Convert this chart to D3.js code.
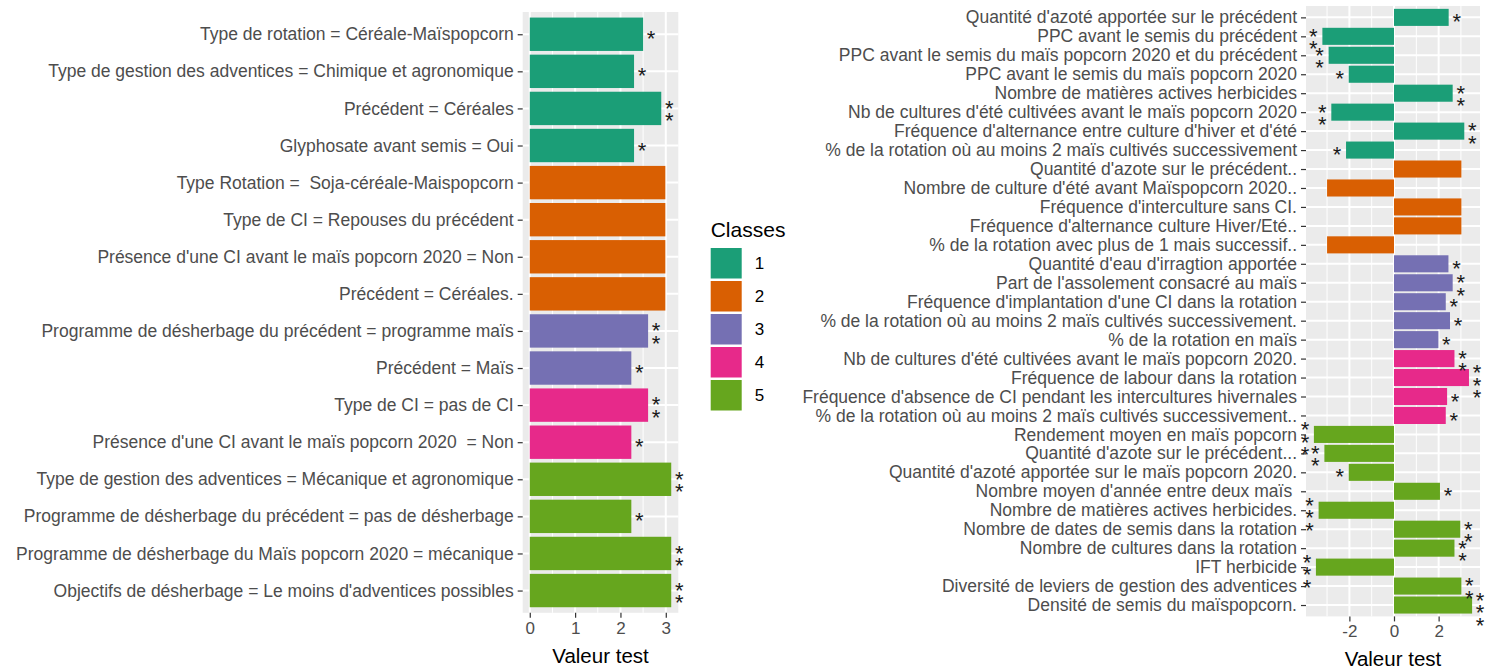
<!DOCTYPE html>
<html>
<head>
<meta charset="utf-8">
<script src="https://cdnjs.cloudflare.com/ajax/libs/d3/7.8.5/d3.min.js"></script>
<style>
  body { margin: 0; background: #fff; }
  svg text { font-family: "Liberation Sans", Arial, sans-serif; white-space: pre; }
</style>
</head>
<body>
<div id="chart"></div>
<script>
// ---- data ----
var classNames = ["1", "2", "3", "4", "5"];
var classColors = ["#1B9E77", "#D95F02", "#7570B3", "#E7298A", "#66A61E"];

var leftLabels = [
  "Type de rotation = Céréale-Maïspopcorn",
  "Type de gestion des adventices = Chimique et agronomique",
  "Précédent = Céréales",
  "Glyphosate avant semis = Oui",
  "Type Rotation =  Soja-céréale-Maispopcorn",
  "Type de CI = Repouses du précédent",
  "Présence d'une CI avant le maïs popcorn 2020 = Non",
  "Précédent = Céréales.",
  "Programme de désherbage du précédent = programme maïs",
  "Précédent = Maïs",
  "Type de CI = pas de CI",
  "Présence d'une CI avant le maïs popcorn 2020  = Non",
  "Type de gestion des adventices = Mécanique et agronomique",
  "Programme de désherbage du précédent = pas de désherbage",
  "Programme de désherbage du Maïs popcorn 2020 = mécanique",
  "Objectifs de désherbage = Le moins d'adventices possibles"
];
var leftValues = [2.50, 2.30, 2.90, 2.30, 2.99, 2.99, 2.99, 2.99, 2.61, 2.24, 2.61, 2.24, 3.12, 2.24, 3.12, 3.12];
var leftClasses = [1, 1, 1, 1, 2, 2, 2, 2, 3, 3, 4, 4, 5, 5, 5, 5];
var leftStars = [1, 1, 2, 1, 0, 0, 0, 0, 2, 1, 2, 1, 2, 1, 2, 2];
var leftTicks = [0, 1, 2, 3];

var rightLabels = [
  "Quantité d'azoté apportée sur le précédent",
  "PPC avant le semis du précédent",
  "PPC avant le semis du maïs popcorn 2020 et du précédent",
  "PPC avant le semis du maïs popcorn 2020",
  "Nombre de matières actives herbicides",
  "Nb de cultures d'été cultivées avant le maïs popcorn 2020",
  "Fréquence d'alternance entre culture d'hiver et d'été",
  "% de la rotation où au moins 2 maïs cultivés successivement",
  "Quantité d'azote sur le précédent..",
  "Nombre de culture d'été avant Maïspopcorn 2020..",
  "Fréquence d'interculture sans CI.",
  "Fréquence d'alternance culture Hiver/Eté..",
  "% de la rotation avec plus de 1 mais successif..",
  "Quantité d'eau d'irragtion apportée",
  "Part de l'assolement consacré au maïs",
  "Fréquence d'implantation d'une CI dans la rotation",
  "% de la rotation où au moins 2 maïs cultivés successivement.",
  "% de la rotation en maïs",
  "Nb de cultures d'été cultivées avant le maïs popcorn 2020.",
  "Fréquence de labour dans la rotation",
  "Fréquence d'absence de CI pendant les intercultures hivernales",
  "% de la rotation où au moins 2 maïs cultivés successivement..",
  "Rendement moyen en maïs popcorn",
  "Quantité d'azote sur le précédent...",
  "Quantité d'azoté apportée sur le maïs popcorn 2020.",
  "Nombre moyen d'année entre deux maïs ",
  "Nombre de matières actives herbicides.",
  "Nombre de dates de semis dans la rotation",
  "Nombre de cultures dans la rotation",
  "IFT herbicide",
  "Diversité de leviers de gestion des adventices",
  "Densité de semis du maïspopcorn."
];
var rightValues = [2.45, -3.21, -2.93, -2.03, 2.63, -2.81, 3.15, -2.15,
  3.02, -3.00, 3.02, 3.02, -3.00,
  2.44, 2.63, 2.32, 2.51, 1.99,
  2.71, 3.36, 2.38, 2.32,
  -3.59, -3.12, -2.03, 2.06, -3.38, 2.97, 2.71, -3.50, 3.02, 3.50];
var rightClasses = [1, 1, 1, 1, 1, 1, 1, 1, 2, 2, 2, 2, 2, 3, 3, 3, 3, 3, 4, 4, 4, 4,
  5, 5, 5, 5, 5, 5, 5, 5, 5, 5];
var rightStars = [1, 2, 2, 1, 2, 2, 2, 1, 0, 0, 0, 0, 0, 1, 2, 1, 1, 1, 2, 3, 1, 1,
  3, 2, 1, 1, 3, 2, 2, 3, 2, 3];
var rightTicks = [-2, 0, 2];

var svgWidth = 1494;
var svgHeight = 669;

var svg = d3.select("#chart")
  .append("svg")
  .attr("width", svgWidth)
  .attr("height", svgHeight);

var starSize = 22;

// draws one ggplot-like horizontal bar panel
function drawPanel(p) {
  var n = p.labels.length;
  var rows = p.labels.map(function(l, i) {
    return { label: l, value: p.values[i], cls: p.classes[i], stars: p.stars[i], i: i };
  });

  // x scale with ggplot's 5% expansion
  var lo = Math.min(0, d3.min(p.values));
  var hi = Math.max(0, d3.max(p.values));
  var pad = (hi - lo) * 0.05;
  var xScale = d3.scaleLinear()
    .domain([lo - pad, hi + pad])
    .range([p.left, p.right]);

  // discrete y with 0.6 expansion each side
  var yScale = d3.scalePoint()
    .domain(d3.range(n))
    .range([p.top, p.bottom])
    .padding(0.6);
  var step = yScale.step();

  var g = svg.append("g");

  g.append("rect")
    .attr("x", p.left).attr("y", p.top)
    .attr("width", p.right - p.left).attr("height", p.bottom - p.top)
    .attr("fill", "#EBEBEB");

  // minor gridlines halfway between major ticks
  var minor = [];
  for (var k = 0; k < p.ticks.length - 1; k++) {
    minor.push((p.ticks[k] + p.ticks[k + 1]) / 2);
  }
  var tStep = p.ticks[1] - p.ticks[0];
  minor.push(p.ticks[0] - tStep / 2, p.ticks[p.ticks.length - 1] + tStep / 2);
  minor = minor.filter(function(v) { return v > xScale.domain()[0] && v < xScale.domain()[1]; });

  g.selectAll(".minor").data(minor).enter().append("line")
    .attr("x1", d => xScale(d)).attr("x2", d => xScale(d))
    .attr("y1", p.top).attr("y2", p.bottom)
    .attr("stroke", "#fff").attr("stroke-width", 1);

  g.selectAll(".major").data(p.ticks).enter().append("line")
    .attr("x1", d => xScale(d)).attr("x2", d => xScale(d))
    .attr("y1", p.top).attr("y2", p.bottom)
    .attr("stroke", "#fff").attr("stroke-width", 2);

  g.selectAll(".hgrid").data(rows).enter().append("line")
    .attr("x1", p.left).attr("x2", p.right)
    .attr("y1", d => yScale(d.i)).attr("y2", d => yScale(d.i))
    .attr("stroke", "#fff").attr("stroke-width", 2);

  // bars
  g.selectAll(".bar").data(rows).enter().append("rect")
    .attr("x", d => xScale(Math.min(0, d.value)))
    .attr("width", d => Math.abs(xScale(d.value) - xScale(0)))
    .attr("y", d => yScale(d.i) - step * 0.45)
    .attr("height", step * 0.9)
    .attr("fill", d => classColors[d.cls - 1]);

  // significance stars, stacked vertically
  rows.forEach(function(d) {
    for (var s = 0; s < d.stars; s++) {
      var yc = yScale(d.i) + (s - (d.stars - 1) / 2) * 12.5 + (d.stars - 1) * 1.5;
      var xs = d.value >= 0 ? xScale(d.value) + 8 : xScale(d.value) - 9;
      g.append("text")
        .attr("x", xs)
        .attr("y", yc + starSize * 0.55)
        .attr("text-anchor", "middle")
        .attr("font-size", starSize + "px")
        .attr("fill", "#1a1a1a")
        .text("*");
    }
  });

  // y axis: ticks + labels
  var yAxis = d3.axisLeft(yScale)
    .tickSize(5)
    .tickPadding(4)
    .tickFormat(function(i) { return p.labels[i]; });
  var ya = g.append("g")
    .attr("transform", "translate(" + p.left + ",0)")
    .call(yAxis);
  ya.select(".domain").remove();
  ya.selectAll(".tick line").attr("stroke", "#333").attr("stroke-width", 1.2);
  ya.selectAll(".tick text")
    .attr("fill", "#4D4D4D")
    .attr("font-size", p.fontSize)
    .attr("font-family", "Liberation Sans, Arial, sans-serif");

  // x axis
  var xAxis = d3.axisBottom(xScale)
    .tickValues(p.ticks)
    .tickSize(5)
    .tickPadding(4)
    .tickFormat(d3.format("d"));
  var xa = g.append("g")
    .attr("transform", "translate(0," + p.bottom + ")")
    .call(xAxis);
  xa.select(".domain").remove();
  xa.selectAll(".tick line").attr("stroke", "#333").attr("stroke-width", 1.2);
  xa.selectAll(".tick text")
    .attr("fill", "#4D4D4D")
    .attr("font-size", "17px")
    .attr("font-family", "Liberation Sans, Arial, sans-serif")
    .text(d => d < 0 ? "-" + Math.abs(d) : d);

  g.append("text")
    .attr("x", (p.left + p.right) / 2)
    .attr("y", p.titleY)
    .attr("text-anchor", "middle")
    .attr("font-size", "20.5px")
    .attr("fill", "#000")
    .text("Valeur test");
}

drawPanel({
  labels: leftLabels, values: leftValues, classes: leftClasses, stars: leftStars,
  ticks: leftTicks,
  left: 522.7, right: 678.3, top: 12, bottom: 612.8,
  fontSize: "17.5px", titleY: 663
});

drawPanel({
  labels: rightLabels, values: rightValues, classes: rightClasses, stars: rightStars,
  ticks: rightTicks,
  left: 1306, right: 1480, top: 6, bottom: 616.4,
  fontSize: "17.5px", titleY: 666
});

// legend
var legend = svg.append("g").attr("transform", "translate(710.7,0)");
legend.append("text")
  .attr("x", 0).attr("y", 237)
  .attr("font-size", "21px")
  .attr("fill", "#000")
  .text("Classes");

legend.selectAll(".key").data(classNames).enter().append("rect")
  .attr("x", 0)
  .attr("y", (d, i) => 248 + i * 33)
  .attr("width", 31)
  .attr("height", 30.5)
  .attr("fill", (d, i) => classColors[i]);

legend.selectAll(".klab").data(classNames).enter().append("text")
  .attr("x", 44)
  .attr("y", (d, i) => 248 + i * 33 + 15.5)
  .attr("dy", "0.35em")
  .attr("font-size", "17px")
  .attr("fill", "#000")
  .text(d => d);
</script>
</body>
</html>
